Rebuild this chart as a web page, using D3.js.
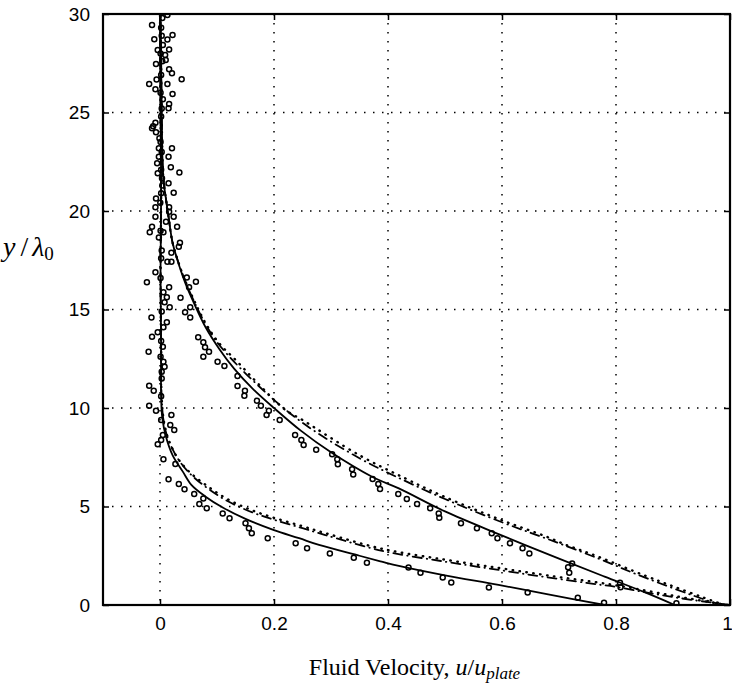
<!DOCTYPE html>
<html>
<head>
<meta charset="utf-8">
<script src="https://cdn.jsdelivr.net/npm/d3@7"></script>
<style>
  html, body { margin: 0; padding: 0; background: #fff; }
  svg { display: block; }
  .tick text { font-family: "Liberation Sans", Arial, sans-serif; font-size: 19px; fill: #000; }
</style>
</head>
<body>
<div id="chart"></div>
<script>
// tick values and labels
var xTicks = [0, 0.2, 0.4, 0.6, 0.8, 1];
var xTickLabels = ["0", "0.2", "0.4", "0.6", "0.8", "1"];
var yTicks = [0, 5, 10, 15, 20, 25, 30];
var xGrid = [0, 0.2, 0.4, 0.6, 0.8];
var yGrid = [5, 10, 15, 20, 25];

// profile 1 (earlier time): model curves [u, y]
var t1Solid = [[0.78,0],[0.681,0.54],[0.594,1.02],[0.50,1.5],[0.419,1.98],[0.389,2.2],[0.35,2.5],[0.279,3.05],[0.244,3.39],[0.20,3.8],[0.150,4.37],[0.110,4.95],[0.080,5.5],[0.055,6.1],[0.040,6.77],[0.022,7.61],[0.0105,8.54],[0.004,9.5],[0.002,10.5],[0.002,13],[0.001,17],[0.002,21],[0.001,25],[0,30]];
var t1Dotted = [[0.995,0],[0.91,0.42],[0.80,1.0],[0.68,1.5],[0.594,1.88],[0.50,2.3],[0.39,2.85],[0.29,3.65],[0.25,4.0],[0.203,4.4],[0.162,4.8],[0.12,5.35],[0.083,6.04],[0.051,6.77],[0.03,7.5],[0.015,8.4],[0.007,9.3],[0.003,10.5],[0.002,13],[0.001,17],[0.002,21],[0.001,25],[0,30]];
var t1DashDot = [[1.0,0],[0.914,0.34],[0.85,0.65],[0.798,0.93],[0.769,1.04],[0.68,1.4],[0.594,1.78],[0.50,2.2],[0.39,2.75],[0.29,3.55],[0.25,3.9],[0.203,4.3],[0.162,4.7],[0.12,5.25],[0.086,5.87],[0.055,6.6],[0.032,7.4],[0.016,8.3],[0.007,9.2],[0.003,10.5],[0.002,13],[0.001,17],[0.002,21],[0.001,25],[0,30]];

// profile 2 (later time): model curves [u, y]
var t2Solid = [[0.903,0],[0.85,0.65],[0.78,1.44],[0.70,2.35],[0.594,3.6],[0.50,4.75],[0.419,5.92],[0.372,6.51],[0.30,7.75],[0.247,8.85],[0.20,10.0],[0.162,11.0],[0.13,12.0],[0.104,13.0],[0.08,14.1],[0.06,15.3],[0.045,16.3],[0.034,17.2],[0.022,18.4],[0.015,19.7],[0.0105,20.6],[0.006,21.6],[0.004,23],[0.003,25],[0.002,27.5],[0.001,30]];
var t2Dotted = [[0.99,0],[0.955,0.36],[0.90,0.95],[0.85,1.5],[0.769,2.45],[0.71,3.08],[0.678,3.47],[0.60,4.3],[0.5,5.48],[0.43,6.43],[0.35,7.6],[0.25,9.39],[0.22,9.9],[0.17,11.3],[0.134,12.4],[0.104,13.28],[0.08,14.3],[0.06,15.45],[0.045,16.4],[0.034,17.25],[0.022,18.4],[0.015,19.7],[0.0105,20.6],[0.006,21.6],[0.004,23],[0.003,25],[0.002,27.5],[0.001,30]];
var t2DashDot = [[0.985,0],[0.95,0.33],[0.85,1.4],[0.77,2.35],[0.68,3.35],[0.60,4.2],[0.5,5.38],[0.43,6.3],[0.35,7.45],[0.25,9.25],[0.17,11.2],[0.104,13.2],[0.08,14.25],[0.06,15.4],[0.045,16.4],[0.034,17.25],[0.022,18.4],[0.015,19.7],[0.0105,20.6],[0.006,21.6],[0.004,23],[0.003,25],[0.002,27.5],[0.001,30]];

// measured points [u, y]
var t1Points = [[0.779,0.12],[0.733,0.37],[0.645,0.63],[0.577,0.89],[0.511,1.14],[0.496,1.40],[0.457,1.64],[0.436,1.90],[0.363,2.15],[0.340,2.40],[0.298,2.62],[0.258,2.88],[0.238,3.13],[0.189,3.39],[0.161,3.64],[0.156,3.89],[0.150,4.15],[0.122,4.40],[0.110,4.65],[0.082,4.91],[0.069,5.13],[0.076,5.40],[0.060,5.63],[0.043,5.87],[0.033,6.14],[0.015,6.38],[0.027,7.16],[0.006,7.40],[-0.004,8.16],[0.002,8.38],[0.005,8.63],[0.025,8.88],[0.018,9.14],[0.002,9.39],[0.020,9.64],[-0.007,9.86],[-0.019,10.12],
  [-0.011,10.88],[-0.019,11.13],[0.003,11.84],[0.008,12.10],[0.006,12.35],[-0.020,12.86],[0.005,13.11],[-0.014,13.62],[-0.004,13.84],[0.006,14.10],[0.012,14.35],[-0.015,14.60],[0.017,15.11],[0.008,15.37],[0.012,15.62],[0.006,15.87],[0.016,16.13],[-0.023,16.38],[-0.008,16.89],[-0.002,18.65],[0.006,18.92],[-0.018,18.92],[-0.014,19.20],[-0.008,19.71],[0.0105,19.46],[-0.008,20.19],[0.0005,20.42],[-0.007,20.64],[-0.004,21.91],[0.0035,21.66],[-0.005,22.42],[-0.002,22.76],[-0.002,23.18],[-0.001,23.69],[-0.007,24.0],[-0.014,24.2],[-0.012,24.3],[-0.008,24.48],[0.005,25.67],[-0.008,26.18],[-0.019,26.45],[-0.006,26.68],[-0.007,27.46],[-0.004,28.17],[0.005,28.43],[-0.010,28.72],[-0.014,29.44],
  [0.002,10.6],[0.003,11.5],[0.001,12.6],[0.002,13.4],[0.003,14.9],[0.001,16.6],[0.002,17.6],[0.003,18.0],[0.001,19.0],[0.002,20.9],[0.004,21.3],[0.002,22.1],[0.003,23.0],[0.001,23.5],[0.002,24.8],[0.003,25.2],[0.001,26.0],[0.002,26.9],[0.004,27.6],[0.001,28.0],[0.003,28.9],[0.002,29.3],[0.004,29.8]];
var t2Points = [[0.906,0.09],[0.808,0.90],[0.807,1.13],[0.718,1.64],[0.716,1.91],[0.723,2.11],[0.648,2.62],[0.636,2.88],[0.614,3.13],[0.592,3.39],[0.582,3.64],[0.556,3.89],[0.528,4.15],[0.490,4.43],[0.489,4.65],[0.474,4.91],[0.451,5.13],[0.433,5.38],[0.418,5.63],[0.386,5.89],[0.383,6.14],[0.373,6.40],[0.339,6.63],[0.337,6.89],[0.312,7.14],[0.311,7.40],[0.302,7.65],[0.274,7.88],[0.252,8.12],[0.248,8.38],[0.237,8.63],[0.210,9.39],[0.187,9.64],[0.191,9.86],[0.177,10.12],[0.170,10.37],[0.148,10.62],[0.149,10.87],[0.136,11.12],[0.136,11.62],[0.113,12.13],[0.101,12.35],[0.076,12.60],[0.086,12.86],[0.079,13.08],[0.076,13.34],[0.067,13.59],[0.053,14.60],[0.044,14.86],[0.053,15.11],[0.036,15.60],[0.051,16.13],[0.063,16.41],[0.047,16.63],[0.013,17.43],[0.020,17.43],[0.020,17.88],[0.033,18.19],[0.035,18.39],[0.030,19.20],[0.024,19.71],[0.016,19.96],[0.016,20.19],[0.024,20.93],[0.015,21.41],[0.034,21.95],[0.019,22.22],[0.015,22.76],[0.021,23.18],[0.015,25.21],[0.016,25.43],[0.022,25.94],[0.013,26.45],[0.038,26.69],[0.021,26.99],[0.016,27.19],[0.010,27.66],[0.009,27.92],[0.016,28.20],[0.013,28.71],[0.022,28.93],[0.013,29.95]];

var W = 732, H = 684;
var margin = {top: 14, right: 2, bottom: 79, left: 103},
    width = W - margin.left - margin.right,
    height = H - margin.top - margin.bottom;

var svg = d3.select("#chart").append("svg")
  .attr("width", W).attr("height", H);

var g = svg.append("g")
  .attr("transform", "translate(" + margin.left + "," + margin.top + ")");

var x = d3.scaleLinear().domain([-0.1, 1]).range([0, width]);
var y = d3.scaleLinear().domain([0, 30]).range([height, 0]);

svg.append("defs").append("clipPath").attr("id", "plot-clip")
  .append("rect").attr("width", width).attr("height", height);

// dotted grid
g.selectAll(".vgrid").data(xGrid).enter().append("line")
  .attr("x1", function(d) { return x(d); }).attr("x2", function(d) { return x(d); })
  .attr("y1", 0).attr("y2", height)
  .attr("stroke", "#000").attr("stroke-width", 1.5).attr("stroke-dasharray", "1.5,7.5");
g.selectAll(".hgrid").data(yGrid).enter().append("line")
  .attr("x1", 0).attr("x2", width)
  .attr("y1", function(d) { return y(d); }).attr("y2", function(d) { return y(d); })
  .attr("stroke", "#000").attr("stroke-width", 1.5).attr("stroke-dasharray", "1.5,7.5");

var plot = g.append("g").attr("clip-path", "url(#plot-clip)");

var line = d3.line()
  .x(function(d) { return x(d[0]); })
  .y(function(d) { return y(d[1]); })
  .curve(d3.curveCatmullRom.alpha(0.5));

function draw_curve(data, dash, sw) {
  plot.append("path").datum(data)
    .attr("fill", "none").attr("stroke", "#000")
    .attr("stroke-width", sw)
    .attr("stroke-dasharray", dash)
    .attr("stroke-linecap", "round")
    .attr("d", line);
}

draw_curve(t1Solid, null, 1.8);
draw_curve(t2Solid, null, 1.8);
draw_curve(t1Dotted, "0.5,6.5", 2.4);
draw_curve(t2Dotted, "0.5,6.5", 2.4);
draw_curve(t1DashDot, "9,5,0.5,5", 1.8);
draw_curve(t2DashDot, "9,5,0.5,5", 1.8);

function draw_points(data) {
  plot.append("g").selectAll("circle").data(data).enter().append("circle")
    .attr("cx", function(d) { return x(d[0]); })
    .attr("cy", function(d) { return y(d[1]); })
    .attr("r", 2.5)
    .attr("fill", "none").attr("stroke", "#000").attr("stroke-width", 1.5);
}
draw_points(t1Points);
draw_points(t2Points);

// box with inward ticks on all four sides
var fmt = function(d, i) { return xTickLabels[i]; };
var ax = g.append("g").attr("transform", "translate(0," + height + ")")
  .call(d3.axisBottom(x).tickValues(xTicks).tickSize(-6).tickPadding(12).tickFormat(fmt));
var axT = g.append("g")
  .call(d3.axisTop(x).tickValues(xTicks).tickSize(-6).tickFormat(""));
var ay = g.append("g")
  .call(d3.axisLeft(y).tickValues(yTicks).tickSize(-6).tickPadding(13));
var ayR = g.append("g").attr("transform", "translate(" + width + ",0)")
  .call(d3.axisRight(y).tickValues(yTicks).tickSize(-6).tickFormat(""));
[ax, axT, ay, ayR].forEach(function(a) {
  a.select(".domain").remove();
  a.selectAll(".tick line").attr("stroke", "#000").attr("stroke-width", 1.5);
});
// keep the last x label inside the picture
ax.selectAll(".tick text").filter(function(d) { return d === 1; }).attr("dx", -3);

g.append("rect").attr("width", width).attr("height", height)
  .attr("fill", "none").attr("stroke", "#000").attr("stroke-width", 2.2);

// axis titles
var xl = svg.append("text")
  .attr("x", margin.left + width / 2 - 2).attr("y", 675)
  .attr("text-anchor", "middle")
  .attr("font-family", "'Liberation Serif', 'Times New Roman', serif")
  .attr("font-size", 24).attr("fill", "#000");
xl.append("tspan").text("Fluid Velocity, ");
xl.append("tspan").attr("font-style", "italic").text("u");
xl.append("tspan").text("/");
xl.append("tspan").attr("font-style", "italic").text("u");
xl.append("tspan").attr("font-style", "italic").attr("font-size", 17).attr("dy", 4).text("plate");

var yl = svg.append("text")
  .attr("x", 3).attr("y", 256)
  .attr("font-family", "'Liberation Serif', 'Times New Roman', serif")
  .attr("font-size", 28).attr("fill", "#000");
yl.append("tspan").attr("font-style", "italic").text("y");
yl.append("tspan").attr("dx", 5).text("/");
yl.append("tspan").attr("dx", 4).attr("font-style", "italic").text("λ");
yl.append("tspan").attr("font-size", 19).attr("dy", 4).text("0");
</script>
</body>
</html>
